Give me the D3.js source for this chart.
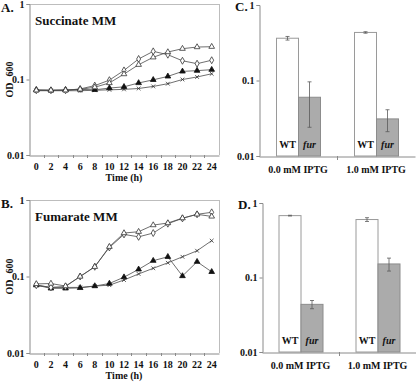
<!DOCTYPE html>
<html><head><meta charset="utf-8">
<script src="https://cdn.jsdelivr.net/npm/d3@7"></script>
<style>
html,body{margin:0;padding:0;background:#fff;}
svg{display:block;}
svg text{font-family:"Liberation Serif","Times New Roman",serif;}
</style></head>
<body>
<svg id="chart" width="416" height="382"></svg>
<script>
// ---------- DATA ----------
const times = [0,2,4,6,8,10,12,14,16,18,20,22,24];
const yTickValues = [1, 0.1, 0.01];
const yTickLabels = ["1", "0.1", "0.01"];

// Panel A: Succinate MM
const succOpenTri  = [0.072,0.072,0.072,0.074,0.079,0.090,0.118,0.157,0.197,0.231,0.256,0.269,0.272];
const succOpenDia  = [0.072,0.072,0.072,0.075,0.083,0.098,0.132,0.187,0.236,0.213,0.177,0.162,0.180];
const succFillTri  = [0.073,0.072,0.073,0.074,0.073,0.077,0.080,0.090,0.099,0.110,0.128,0.131,0.135];
const succCross    = [0.071,0.071,0.071,0.071,0.072,0.073,0.074,0.076,0.081,0.088,0.100,0.108,0.119];

// Panel B: Fumarate MM
const fumOpenTri   = [0.080,0.081,0.075,0.100,0.134,0.245,0.370,0.385,0.470,0.500,0.580,0.650,0.610];
const fumOpenDia   = [0.077,0.072,0.074,0.100,0.134,0.240,0.355,0.330,0.370,0.490,0.575,0.650,0.690];
const fumFillTri   = [0.077,0.070,0.070,0.071,0.075,0.081,0.098,0.124,0.161,0.181,0.1015,0.156,0.115];
const fumCross     = [0.077,0.072,0.072,0.072,0.075,0.077,0.090,0.108,0.128,0.151,0.181,0.217,0.294];

// Panels C and D: bars
const groups = ["0.0 mM IPTG", "1.0 mM IPTG"];
const strains = ["WT", "fur"];
const cWT  = [0.363, 0.433];
const cWTErr = [0.02, 0.01];
const cFur = [0.060, 0.031];
const cFurErr = [0.036, 0.010];
const dWT  = [0.677, 0.600];
const dWTErr = [0.008, 0.035];
const dFur = [0.0436, 0.152];
const dFurErr = [0.0055, 0.03];

// ---------- DRAW ----------
const svg = d3.select("#chart");
const axisColor = "#8a8a8a";
const lineColor = "#4a4a4a";
const FONT = "Liberation Serif";

const crossSymbol = {
  draw(ctx, size) {
    const r = Math.sqrt(size) / 2;
    ctx.moveTo(-r, -r); ctx.lineTo(r, r);
    ctx.moveTo(-r, r); ctx.lineTo(r, -r);
  }
};

function styleText(sel, size) {
  sel.attr("font-size", size).attr("font-weight", "bold").attr("fill", "#111").attr("font-family", FONT);
}

function linePanel(cfg) {
  const g = svg.append("g");
  const x = d3.scaleBand().domain(times).range([cfg.x0, cfg.x1]).padding(0);
  const cx = t => x(t) + x.bandwidth() / 2;
  const y = d3.scaleLog().domain([0.01, 1]).range([cfg.y1, cfg.y0]);

  // frame top/right
  g.append("line").attr("x1", cfg.x0).attr("x2", cfg.x1).attr("y1", cfg.y0 + 0.5).attr("y2", cfg.y0 + 0.5)
    .attr("stroke", "#bdbdbd").attr("stroke-width", 1);
  g.append("line").attr("x1", cfg.x1 + 0.5).attr("x2", cfg.x1 + 0.5).attr("y1", cfg.y0).attr("y2", cfg.y1)
    .attr("stroke", "#bdbdbd").attr("stroke-width", 1);

  // y axis
  const ya = d3.axisLeft(y).tickValues(yTickValues).tickFormat((d, i) => yTickLabels[i]).tickSize(3).tickPadding(2);
  const yg = g.append("g").attr("transform", `translate(${cfg.x0 + 0.5},0)`).call(ya);
  yg.attr("font-family", FONT);
  yg.select(".domain").attr("stroke", axisColor);
  yg.selectAll(".tick line").attr("stroke", axisColor);
  styleText(yg.selectAll("text"), 10);

  // x axis
  const xa = d3.axisBottom(x).tickSize(0).tickPadding(7).tickSizeOuter(0);
  const xg = g.append("g").attr("transform", `translate(0,${cfg.y1 + 0.5})`).call(xa);
  xg.attr("font-family", FONT);
  xg.select(".domain").attr("stroke", axisColor);
  styleText(xg.selectAll("text"), 10);
  // boundary tick marks
  g.selectAll(".bt").data(times.slice(1)).join("line")
    .attr("x1", d => Math.round(x(d)) + 0.5).attr("x2", d => Math.round(x(d)) + 0.5)
    .attr("y1", cfg.y1).attr("y2", cfg.y1 + 3).attr("stroke", axisColor);

  // series
  const line = d3.line().x((d, i) => cx(times[i])).y(d => y(d));
  cfg.series.forEach(s => {
    g.append("path").attr("d", line(s.values)).attr("fill", "none")
      .attr("stroke", lineColor).attr("stroke-width", 0.8);
  });
  cfg.series.forEach(s => {
    const sym = d3.symbol().type(s.type).size(s.size);
    g.selectAll(null).data(s.values).join("path")
      .attr("d", sym)
      .attr("transform", (d, i) => `translate(${cx(times[i])},${y(d)})`)
      .attr("fill", s.fill).attr("stroke", s.stroke).attr("stroke-width", 0.8);
  });

  // labels
  styleText(g.append("text").attr("x", cfg.x0 + 6).attr("y", cfg.y0 + 21).text(cfg.title), 13);
  styleText(g.append("text").attr("x", 1).attr("y", cfg.y0 + 8).text(cfg.letter), 13);
  const od = g.append("text").attr("transform", `translate(13,${(cfg.y0 + cfg.y1) / 2}) rotate(-90)`)
    .attr("text-anchor", "middle");
  styleText(od, 10);
  od.append("tspan").text("OD");
  od.append("tspan").attr("dx", 6).text("600");
  styleText(g.append("text").attr("x", (cfg.x0 + cfg.x1) / 2).attr("y", cfg.y1 + 26).attr("text-anchor", "middle")
    .text("Time (h)"), 10);
}

function seriesSet(openTri, openDia, fillTri, cross) {
  return [
    {values: cross, type: crossSymbol, size: 14, fill: "none", stroke: "#333"},
    {values: fillTri, type: d3.symbolTriangle, size: 14, fill: "#111", stroke: "#111"},
    {values: openDia, type: d3.symbolDiamond, size: 14, fill: "#fff", stroke: "#333"},
    {values: openTri, type: d3.symbolTriangle, size: 14, fill: "#fff", stroke: "#333"}
  ];
}

linePanel({x0: 29, x1: 219, y0: 4, y1: 155, title: "Succinate MM", letter: "A.",
  series: seriesSet(succOpenTri, succOpenDia, succFillTri, succCross)});
linePanel({x0: 29, x1: 219, y0: 200, y1: 353, title: "Fumarate MM", letter: "B.",
  series: seriesSet(fumOpenTri, fumOpenDia, fumFillTri, fumCross)});

function barPanel(cfg) {
  const g = svg.append("g");
  const x = d3.scaleBand().domain(groups).range([cfg.x0, cfg.x1]);
  const xs = d3.scaleBand().domain(strains).range([0, 44]);
  const y = d3.scaleLog().domain([0.01, 1]).range([cfg.y1, cfg.y0]);
  const off = (x.bandwidth() - 44) / 2;

  const data = [];
  groups.forEach((gr, i) => {
    data.push({g: gr, s: "WT", v: cfg.wt[i], e: cfg.wtErr[i]});
    data.push({g: gr, s: "fur", v: cfg.fur[i], e: cfg.furErr[i]});
  });
  const bx = d => x(d.g) + off + xs(d.s);

  g.selectAll(".bar").data(data).join("rect")
    .attr("x", d => bx(d) + 0.5).attr("y", d => y(d.v))
    .attr("width", xs.bandwidth()).attr("height", d => cfg.y1 - y(d.v))
    .attr("fill", d => d.s === "WT" ? "#fff" : "#ababab")
    .attr("stroke", d => d.s === "WT" ? "#9a9a9a" : "#8c8c8c").attr("stroke-width", 1);

  // error bars
  const ec = "#5a5a5a";
  data.forEach(d => {
    const cx = bx(d) + xs.bandwidth() / 2 + 0.5;
    const yt = y(d.v + d.e), yb = y(d.v - d.e);
    g.append("line").attr("x1", cx).attr("x2", cx).attr("y1", yt).attr("y2", yb).attr("stroke", ec).attr("stroke-width", 0.8);
    [yt, yb].forEach(yy => g.append("line").attr("x1", cx - 2).attr("x2", cx + 2).attr("y1", yy).attr("y2", yy)
      .attr("stroke", ec).attr("stroke-width", 0.8));
  });

  // bar labels
  const bl = g.selectAll(".bl").data(data).join("text")
    .attr("x", d => bx(d) + xs.bandwidth() / 2 + 0.5).attr("y", cfg.y1 - 8)
    .attr("text-anchor", "middle")
    .text(d => d.s);
  styleText(bl, 10);
  bl.attr("font-style", d => d.s === "fur" ? "italic" : "normal");

  // y axis
  const ya = d3.axisLeft(y).tickValues(yTickValues).tickFormat((d, i) => yTickLabels[i]).tickSize(3).tickPadding(2);
  const yg = g.append("g").attr("transform", `translate(${cfg.x0 + 0.5},0)`).call(ya);
  yg.attr("font-family", FONT);
  yg.select(".domain").attr("stroke", axisColor);
  yg.selectAll(".tick line").attr("stroke", axisColor);
  styleText(yg.selectAll("text"), 10);

  // x axis
  const xa = d3.axisBottom(x).tickSize(0).tickPadding(9).tickSizeOuter(0);
  const xg = g.append("g").attr("transform", `translate(0,${cfg.y1 + 0.5})`).call(xa);
  xg.attr("font-family", FONT);
  xg.select(".domain").attr("stroke", axisColor);
  styleText(xg.selectAll("text"), 10);
  g.append("line").attr("x1", Math.round(x(groups[1])) + 0.5).attr("x2", Math.round(x(groups[1])) + 0.5)
    .attr("y1", cfg.y1).attr("y2", cfg.y1 + 4).attr("stroke", axisColor);

  styleText(g.append("text").attr("x", cfg.x0 - 24).attr("y", cfg.y0 + 6).text(cfg.letter), 13);
}

barPanel({x0: 259, x1: 415, y0: 5, y1: 156, letter: "C.",
  wt: cWT, wtErr: cWTErr, fur: cFur, furErr: cFurErr});
barPanel({x0: 262, x1: 416, y0: 203, y1: 352, letter: "D.",
  wt: dWT, wtErr: dWTErr, fur: dFur, furErr: dFurErr});
</script>
</body></html>
